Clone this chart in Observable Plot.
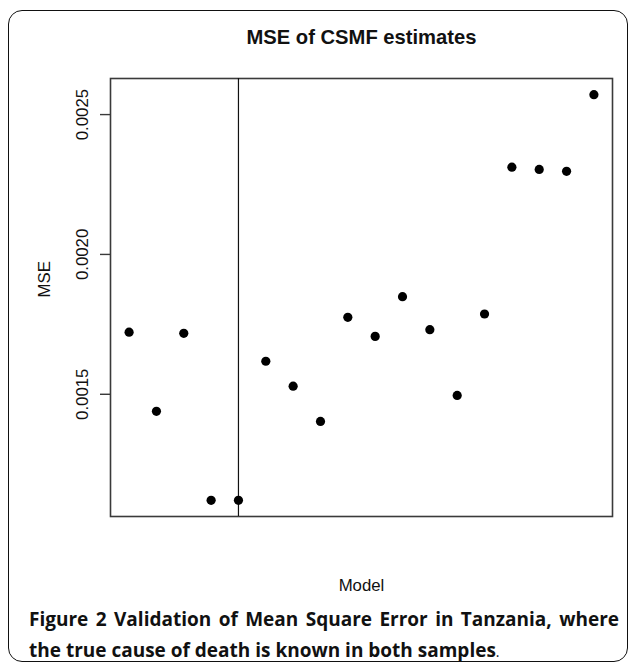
<!DOCTYPE html>
<html>
<head>
<meta charset="utf-8">
<script src="https://cdn.jsdelivr.net/npm/d3@7"></script>
<script src="https://cdn.jsdelivr.net/npm/@observablehq/plot@0.6"></script>
<style>
  html, body { margin: 0; padding: 0; background: #fff; }
  #wrap { position: relative; width: 629px; height: 665px; overflow: hidden; }
  #chart { position: absolute; left: 0; top: 0; }
  #border { position: absolute; left: 8px; top: 10px; width: 620px; height: 652px;
            border: 1.6px solid #111; border-radius: 14px; box-sizing: border-box; }
  #caption { position: absolute; left: 29px; top: 604px; width: 590px;
             font-family: "Open Sans", sans-serif; font-size: 19px; font-weight: 700;
             line-height: 31px; color: #111; }
  #caption .l1 { text-align: justify; text-align-last: justify; white-space: nowrap; }
  #caption .dot { font-weight: 400; font-size: 14px; }
</style>
</head>
<body>
<div id="wrap">
  <div id="chart"></div>
  <div id="border"></div>
  <div id="caption"></div>
</div>
<script>
// Data (model index 1..18, MSE)
const models = [1, 2, 3, 4, 5, 6, 7, 8, 9, 10, 11, 12, 13, 14, 15, 16, 17, 18];
const mse = [0.001722, 0.001439, 0.001718, 0.001121, 0.001121, 0.001618, 0.001529, 0.001403, 0.001775,
             0.001707, 0.001849, 0.001731, 0.001496, 0.001787, 0.002312, 0.002304, 0.002297, 0.002571];
const yTicks = [0.0015, 0.0020, 0.0025];
const yTickLabels = ["0.0015", "0.0020", "0.0025"];
const vLine = [5];
const titleText = "MSE of CSMF estimates";
const xLabel = "Model";
const yLabel = "MSE";
const captionLine1 = "Figure 2 Validation of Mean Square Error in Tanzania, where";
const captionLine2 = "the true cause of death is known in both samples";

const data = models.map((m, i) => ({model: m, mse: mse[i]}));
const tickData = yTicks.map((v, i) => ({v, label: yTickLabels[i]}));

// R-style 4% padding of the data range
function pad(ext) { const d = (ext[1] - ext[0]) * 0.04; return [ext[0] - d, ext[1] + d]; }
const xDom = pad(d3.extent(models));
const yDom = pad(d3.extent(mse));

const font = "Liberation Sans, Arial, Helvetica, sans-serif";

const chart = Plot.plot({
  width: 629,
  height: 665,
  marginLeft: 110,
  marginRight: 17,
  marginTop: 78,
  marginBottom: 149,
  style: {fontFamily: font, background: "transparent", color: "#111"},
  x: {domain: xDom, axis: null},
  y: {domain: yDom, axis: null},
  marks: [
    Plot.frame({stroke: "#3a3a3a", strokeWidth: 1.6}),
    Plot.ruleX(vLine, {stroke: "#111", strokeWidth: 1.2}),
    Plot.axisY({ticks: yTicks, tickSize: 10, tickFormat: () => "", stroke: "#3a3a3a", strokeWidth: 1.4}),
    Plot.text(tickData, {y: "v", text: "label", frameAnchor: "left", rotate: -90, dx: -23,
      textAnchor: "middle", lineAnchor: "bottom", fontSize: 16.8, fill: "#111"}),
    Plot.dot(data, {x: "model", y: "mse", r: 4.6, fill: "#000", stroke: "none"}),
    Plot.text([titleText], {frameAnchor: "top", dy: -35, lineAnchor: "bottom",
      fontSize: 20.2, fontWeight: "bold", fill: "#111"}),
    Plot.text([xLabel], {frameAnchor: "bottom", dy: 74, lineAnchor: "bottom", fontSize: 16.8, fill: "#111"}),
    Plot.text([yLabel], {frameAnchor: "left", rotate: -90, dx: -61, lineAnchor: "bottom",
      fontSize: 16.8, fill: "#111"})
  ]
});
document.getElementById("chart").appendChild(chart);

const cap = document.getElementById("caption");
const l1 = document.createElement("div"); l1.className = "l1"; l1.textContent = captionLine1;
const l2 = document.createElement("div");
l2.textContent = captionLine2;
const dot = document.createElement("span"); dot.className = "dot"; dot.textContent = ".";
l2.appendChild(dot);
cap.appendChild(l1); cap.appendChild(l2);
</script>
</body>
</html>
